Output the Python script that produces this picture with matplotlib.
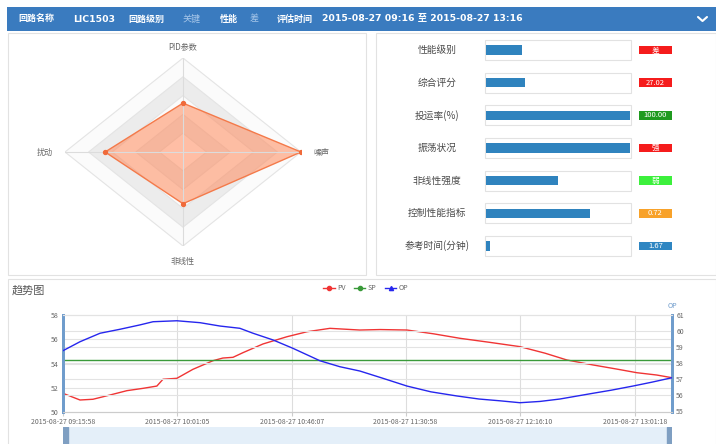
import matplotlib.pyplot as plt
from matplotlib.patches import Rectangle, Polygon
from matplotlib.lines import Line2D

plt.rcParams['font.family'] = ['Noto Sans CJK SC', 'DejaVu Sans']

W, H = 716, 444

# 顶部信息栏
header_items = [("回路名称", "LIC1503"), ("回路级别", "关键"), ("性能", "差"),
                ("评估时间", "2015-08-27 09:16 至 2015-08-27 13:16")]
header_x = [(18, 73), (128, 183), (220, 250), (277, 322)]

# 雷达图
radar_names = ["PID参数", "噪声", "非线性", "扰动"]
radar_values = [0.52, 1.0, 0.55, 0.66]
radar_dirs = [(0, 1), (1, 0), (0, -1), (-1, 0)]

# 指标条
metric_names = ["性能级别", "综合评分", "投运率(%)", "振荡状况", "非线性强度", "控制性能指标", "参考时间(分钟)"]
metric_fill = [0.25, 0.2702, 1.0, 1.0, 0.5, 0.72, 0.028]
metric_badges = ["差", "27.02", "100.00", "强", "弱", "0.72", "1.67"]
badge_colors = ["#f51c1c", "#f51c1c", "#1f9a1f", "#f51c1c", "#3cf03c", "#f8a22a", "#2f86c2"]

# 趋势图 (分钟, 自 09:15:58 起)
pv_min = [0, 6.7, 11.8, 18.5, 25.2, 31.5, 37.0, 39.4, 44.9, 51.2, 59.1, 63.0, 67.0, 70.9,
          78.8, 88.3, 96.2, 105.2, 117.0, 125.0, 135.6, 146.0, 156.4, 168.0, 180.1, 190.0,
          198.6, 208.9, 218.0, 226.2, 234.0, 240.0]
pv = [51.54, 50.99, 51.05, 51.40, 51.76, 51.95, 52.14, 52.70, 52.78, 53.52, 54.23, 54.45,
      54.51, 54.89, 55.61, 56.21, 56.62, 56.90, 56.76, 56.80, 56.76, 56.45, 56.08, 55.75,
      55.39, 54.85, 54.29, 53.88, 53.55, 53.24, 53.05, 52.83]
op_min = [0, 6.7, 14.6, 22.5, 30.3, 35.5, 44.9, 54.0, 61.9, 69.7, 74.9, 82.8, 90.6, 101.3,
          109.1, 117.0, 126.0, 135.6, 145.0, 155.3, 164.0, 172.2, 180.1, 188.0, 195.8, 208.9,
          216.0, 224.6, 232.0, 240.0]
op = [58.77, 59.33, 59.86, 60.11, 60.38, 60.58, 60.64, 60.52, 60.31, 60.17, 59.86, 59.44,
      58.92, 58.14, 57.77, 57.50, 57.05, 56.56, 56.20, 55.94, 55.75, 55.64, 55.52, 55.60,
      55.75, 56.11, 56.30, 56.56, 56.80, 57.08]
sp_value = 54.29
xtick_labels = ["2015-08-27 09:15:58", "2015-08-27 10:01:05", "2015-08-27 10:46:07",
                "2015-08-27 11:30:58", "2015-08-27 12:16:10", "2015-08-27 13:01:18"]
end_time = "13:16:00"


def to_min(t, t0="09:15:58"):
    h, m, s = map(int, t.split(":"))
    h0, m0, s0 = map(int, t0.split(":"))
    return (h * 3600 + m * 60 + s - h0 * 3600 - m0 * 60 - s0) / 60.0


def box(x0, y0, x1, y1):
    return [x0 / W, 1 - y1 / H, (x1 - x0) / W, (y1 - y0) / H]


fig = plt.figure(figsize=(W / 100, H / 100), dpi=100)
fig.patch.set_facecolor("white")

# 背景层: 面板边框和顶栏
bg = fig.add_axes([0, 0, 1, 1])
bg.set_xlim(0, W)
bg.set_ylim(H, 0)
bg.axis("off")
bg.add_patch(Rectangle((7, 7), W - 7, 24, facecolor="#3a7bbf", edgecolor="none"))
bg.add_patch(Rectangle((8, 33), 358, 242, facecolor="white", edgecolor="#e2e2e2", lw=0.8))
bg.add_patch(Rectangle((376, 33), W - 376, 242, facecolor="white", edgecolor="#e2e2e2", lw=0.8))
bg.add_patch(Rectangle((8, 279), W - 8, 170, facecolor="white", edgecolor="#e2e2e2", lw=0.8))

for (label, value), (lx, vx) in zip(header_items, header_x):
    bg.text(lx, 19, label, color="white", fontsize=6.5, fontweight="bold", va="center")
    if value[0].isascii():
        bg.text(vx, 19, value, color="white", fontsize=6.7, fontweight="bold", va="center",
                family=["DejaVu Sans", "Noto Sans CJK SC"])
    else:
        bg.text(vx, 19, value, color="#a9c8ea", fontsize=6.5, va="center")
bg.plot([698, 702.5, 707], [17, 21, 17], color="white", lw=1.5, solid_capstyle="round")

# 雷达图
rad = fig.add_axes(box(65, 58, 301, 246))
rad.set_xlim(-1, 1)
rad.set_ylim(-1, 1)
rad.axis("off")
ring_colors = ["#ffffff", "#ececec", "#fbfbfb", "#ececec", "#fbfbfb"]
for k in range(5, 0, -1):
    r = k / 5
    pts = [(dx * r, dy * r) for dx, dy in radar_dirs]
    rad.add_patch(Polygon(pts, closed=True, facecolor=ring_colors[k - 1],
                          edgecolor="#e4e4e4", lw=0.8))
for dx, dy in radar_dirs:
    rad.plot([0, dx], [0, dy], color="#dcdcdc", lw=0.8)
pts = [(dx * v, dy * v) for (dx, dy), v in zip(radar_dirs, radar_values)]
rad.add_patch(Polygon(pts, closed=True, facecolor="#ff8a5c", alpha=0.55, edgecolor="none"))
rad.add_patch(Polygon(pts, closed=True, facecolor="none", edgecolor="#f47a4a", lw=1.0))
rad.scatter([p[0] for p in pts], [p[1] for p in pts], s=8, color="#f06a3a", zorder=5)
label_off = [1.11, 1.175, 1.17, 1.175]
for (dx, dy), name, off in zip(radar_dirs, radar_names, label_off):
    rad.text(dx * off, dy * off, name, fontsize=5.8, color="#666666",
             ha="center", va="center", clip_on=False)

# 指标条
bars = fig.add_axes(box(485, 50 - 16.35, 631, 246 + 16.35))
bars.set_xlim(0, 1)
bars.set_ylim(len(metric_names) - 0.5, -0.5)
bars.axis("off")
bars.patch.set_alpha(0)
for i, (name, val, badge, bc) in enumerate(zip(metric_names, metric_fill, metric_badges, badge_colors)):
    bars.add_patch(Rectangle((0, i - 0.305), 1, 0.61, facecolor="white", edgecolor="#e2e2e2",
                             lw=0.8, clip_on=False))
    bars.barh(i, val * 0.985, left=0.01, height=0.29, color="#2f83be")
    bars.text(-0.329, i, name, fontsize=7, color="#4a4a4a", ha="center", va="center")
    bars.add_patch(Rectangle((1.055, i - 0.13), 0.225, 0.26, facecolor=bc, edgecolor="none",
                             clip_on=False))
    bars.text(1.1675, i, badge, fontsize=5.5, color="white", ha="center", va="center")

# 趋势图
bg.text(12, 290, "趋势图", fontsize=8, color="#555555", va="center")
ax = fig.add_axes(box(63, 315, 672, 412))
ax2 = ax.twinx()
xt = [to_min(s.split()[1]) for s in xtick_labels]
xmax = to_min(end_time)
ax.set_xlim(0, xmax)
ax.set_ylim(50, 58)
ax.set_yticks([50, 52, 54, 56, 58])
ax2.set_ylim(54.94, 61.0)
ax2.set_yticks([55, 56, 57, 58, 59, 60, 61])
ax.set_xticks(xt)
ax.set_xticklabels(xtick_labels)
for yv in [52, 54, 56]:
    ax.axhline(yv, color="#e3e3e3", lw=0.8, zorder=0)
for yv in [56, 57, 58, 59, 60]:
    ax2.axhline(yv, color="#e3e3e3", lw=0.8, zorder=0)
for xv in xt[1:]:
    ax.axvline(xv, color="#dddddd", lw=0.8, zorder=0)
ax.plot(pv_min, pv, color="#f03434", lw=1.0, zorder=3)
ax.axhline(sp_value, color="#3a9a3a", lw=1.0, zorder=3)
ax2.plot(op_min, op, color="#2626ee", lw=1.0, zorder=3)
for a in (ax, ax2):
    a.spines["top"].set_color("#e3e3e3")
    a.spines["bottom"].set_color("#cccccc")
    a.spines["left"].set_color("#6f9ccc")
    a.spines["left"].set_linewidth(2)
    a.spines["right"].set_color("#6f9ccc")
    a.spines["right"].set_linewidth(2)
    a.tick_params(labelsize=5, colors="#666666", length=0, pad=3)
ax.tick_params(axis="x", length=3, color="#cccccc", pad=1.5)
ax2.text(1.0, 1.07, "OP", transform=ax2.transAxes, fontsize=5, color="#6f9ccc", ha="center")

handles = [Line2D([], [], color="#f03434", marker="o", markersize=3, lw=1),
           Line2D([], [], color="#3a9a3a", marker="o", markersize=3, lw=1),
           Line2D([], [], color="#2626ee", marker="^", markersize=3, lw=1)]
fig.legend(handles, ["PV", "SP", "OP"], loc="center", bbox_to_anchor=(366 / W, 1 - 288 / H),
           ncol=3, frameon=False, fontsize=5, handlelength=1.6, columnspacing=1.2,
           handletextpad=0.4, labelcolor="#666666")

# 缩放条
sl = fig.add_axes(box(63, 427, 672, 444))
sl.set_xlim(0, xmax)
sl.set_ylim(0, 1)
sl.set_facecolor("#e4eff9")
for s in sl.spines.values():
    s.set_visible(False)
sl.set_xticks([])
sl.set_yticks([])
sl.axvspan(0, 0.009 * xmax, color="#7f9fc2")
sl.axvspan(0.991 * xmax, xmax, color="#7f9fc2")

fig.savefig("out.png", dpi=100)
